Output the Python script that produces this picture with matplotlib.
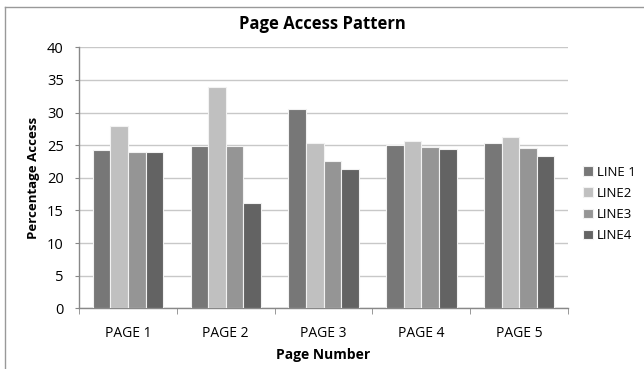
import matplotlib
matplotlib.use("Agg")
import matplotlib.pyplot as plt
from matplotlib.lines import Line2D
import numpy as np

pages = ["PAGE 1", "PAGE 2", "PAGE 3", "PAGE 4", "PAGE 5"]
series_names = ["LINE 1", "LINE2", "LINE3", "LINE4"]
line1 = [24.2, 24.9, 30.5, 25.1, 25.4]
line2 = [27.9, 33.9, 25.3, 25.6, 26.3]
line3 = [23.9, 24.9, 22.6, 24.7, 24.6]
line4 = [23.9, 16.2, 21.4, 24.4, 23.4]
colors = ["#777777", "#c0c0c0", "#959595", "#636363"]

plt.rcParams['font.family'] = ['Open Sans', 'DejaVu Sans']

fig = plt.figure(figsize=(6.44, 3.69), dpi=100)
ax = fig.add_axes([0.1227, 0.1645, 0.7593, 0.7073])

x = np.arange(len(pages))
bw = 0.18
series = [line1, line2, line3, line4]
for i, (vals, name, c) in enumerate(zip(series, series_names, colors)):
    ax.bar(x + (i - 1.5) * bw, vals, width=bw, color=c, edgecolor="#f2f2f2",
           linewidth=0.8, label=name, zorder=3)

ax.set_xlim(-0.5, len(pages) - 0.5)
ax.set_ylim(0, 40)
ax.set_yticks(range(0, 41, 5))
ax.yaxis.grid(True, color="#c8c8c8", linewidth=1.0, zorder=0)
ax.set_axisbelow(True)

ax.set_xticks(x)
ax.set_xticklabels(pages, fontsize=10)
ax.set_xticks(np.arange(-0.5, len(pages), 1.0), minor=True)
ax.tick_params(axis="x", which="major", length=0, pad=13)
ax.tick_params(axis="x", which="minor", length=4, color="#888888", direction="out")
ax.tick_params(axis="y", length=3, color="#888888", labelsize=10.5, pad=8)

for s in ["top", "right"]:
    ax.spines[s].set_visible(False)
for s in ["left", "bottom"]:
    ax.spines[s].set_color("#888888")
    ax.spines[s].set_linewidth(1.0)

ax.set_xlabel("Page Number", fontsize=10, fontweight="bold", labelpad=5)
ax.set_ylabel("Percentage Access", fontsize=9.5, fontweight="bold", labelpad=5)
fig.text(0.5, 0.935, "Page Access Pattern", ha="center", va="center",
         fontsize=12, fontweight="bold")

ax.legend(loc="center left", bbox_to_anchor=(1.03, 0.40), frameon=False,
          fontsize=9.5, handlelength=0.75, handleheight=0.75, handletextpad=0.35,
          labelspacing=0.62, borderpad=0, borderaxespad=0)

# chart area frame
fig.add_artist(Line2D([5 / 644, 5 / 644], [0, 1 - 7 / 369], color="#999999", linewidth=1.0))
fig.add_artist(Line2D([5 / 644, 1], [1 - 7 / 369, 1 - 7 / 369], color="#999999", linewidth=1.0))

fig.savefig("out.png", dpi=100)
